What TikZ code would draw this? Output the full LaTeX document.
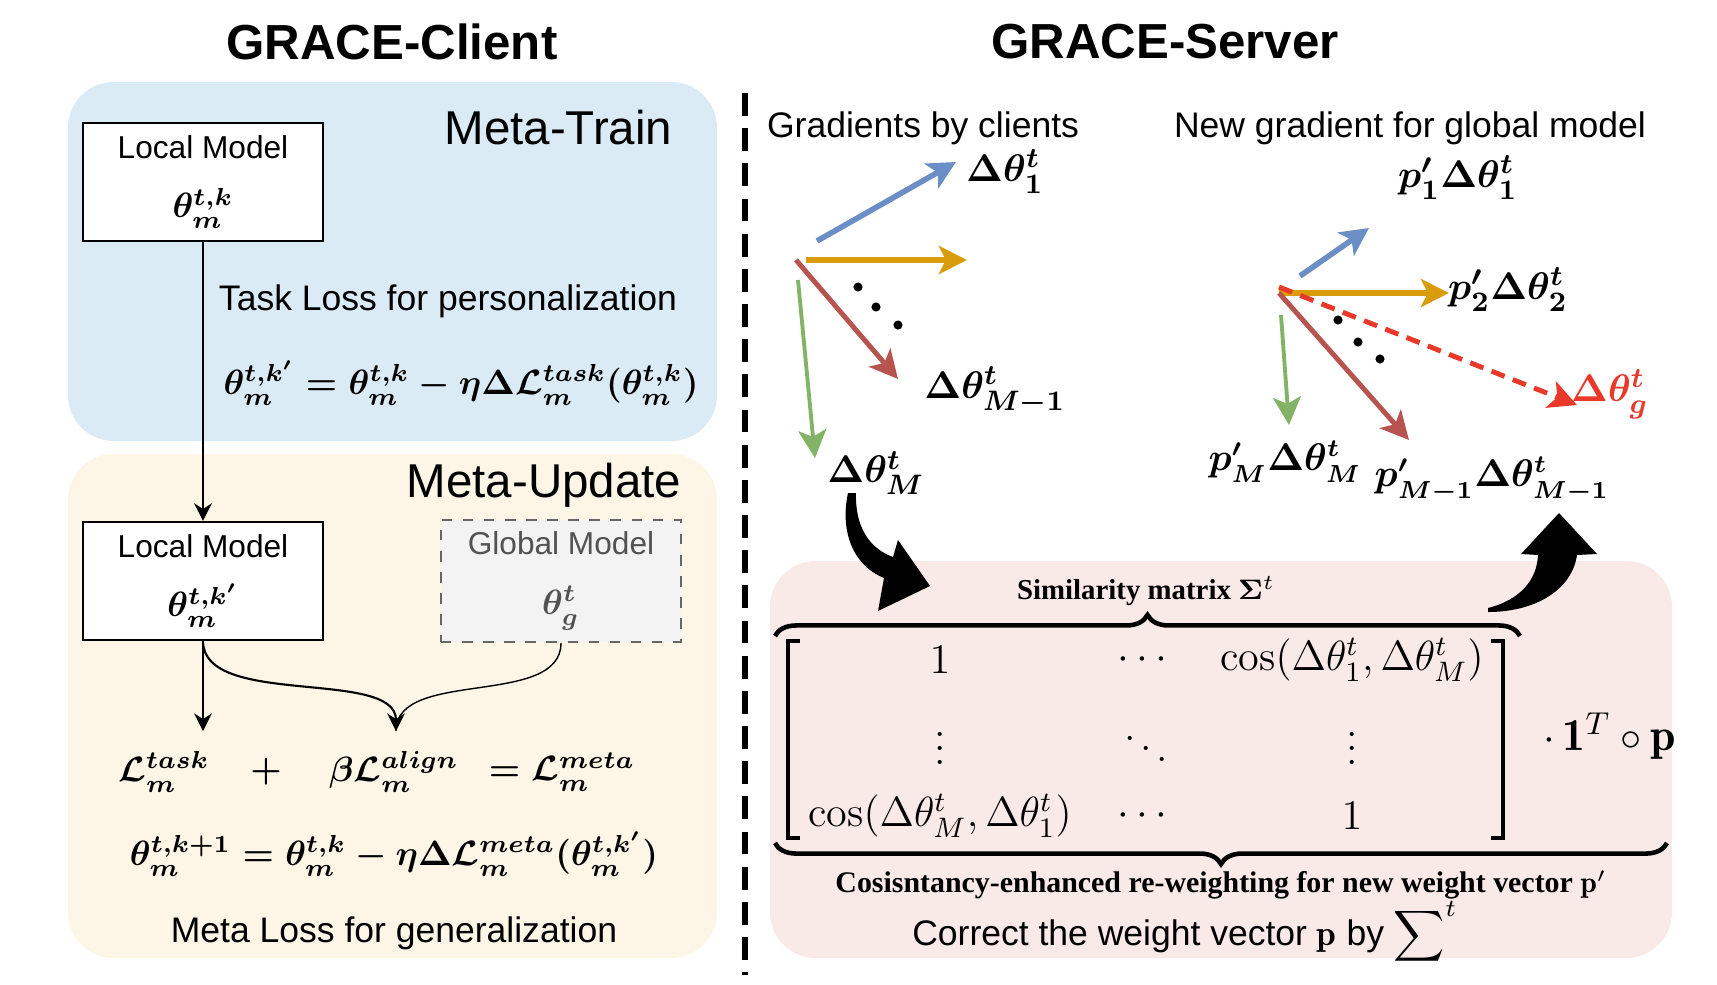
\documentclass[tikz,border=0pt]{standalone}
\usepackage{amsmath,amssymb}
\usepackage{fontspec}
\setsansfont{Liberation Sans}
\newfontfamily\captionserif{Liberation Serif}
\usepackage{tikz}
\usetikzlibrary{arrows.meta,positioning,calc,decorations.pathreplacing}

\definecolor{trainbg}{HTML}{DBEBF5}
\definecolor{updatebg}{HTML}{FDF5E6}
\definecolor{serverbg}{HTML}{F9E9E7}
\definecolor{gblue}{HTML}{6C8EC6}
\definecolor{gyellow}{HTML}{D89C0C}
\definecolor{gbrown}{HTML}{B85450}
\definecolor{ggreen}{HTML}{82B366}
\definecolor{gred}{HTML}{E8392A}
\definecolor{globalbg}{HTML}{F3F3F3}
\definecolor{globalln}{HTML}{666666}

\newcommand{\eqfont}{\fontsize{10.2}{12}\selectfont\boldmath}
\newcommand{\labfont}{\fontsize{11}{13}\selectfont\boldmath}

\begin{document}
\begin{tikzpicture}[
    x=0.01cm, y=-0.01cm,
    panel/.style={rounded corners=13pt},
    title/.style={font=\sffamily\bfseries\fontsize{14}{16}\selectfont},
    phase/.style={font=\sffamily\fontsize{13.5}{16}\selectfont, anchor=east, inner sep=0pt},
    caption/.style={font=\sffamily\fontsize{10.1}{12}\selectfont},
    box/.style={rectangle, draw=black, fill=white, semithick, minimum width=2.4cm, minimum height=1.18cm, align=center, font=\sffamily\fontsize{9}{11}\selectfont},
    globalbox/.style={box, draw=globalln, dashed, fill=globalbg, text=globalln!80!black},
    eq/.style={font=\eqfont},
    glabel/.style={font=\labfont, inner sep=1pt},
    arrow/.style={-{Stealth[length=5pt,width=5pt]}, semithick},
    grad/.style={line width=1.6pt, -{Stealth[length=8pt,width=8pt,inset=2pt]}},
    mat/.style={font=\fontsize{12}{14}\selectfont, inner sep=0.5pt},
    smallbf/.style={font=\captionserif\bfseries\fontsize{8.2}{10}\selectfont},
    brace/.style={decorate, decoration={brace, amplitude=6pt}, line width=1.3pt}
]
    \useasboundingbox (0,0) rectangle (1717,984);

    % Panels
    \fill[trainbg, panel] (68,82) rectangle (717,441);
    \fill[updatebg, panel] (68,454) rectangle (717,958);
    \fill[serverbg, panel] (770,561) rectangle (1672,958);
    \draw[line width=1.8pt, dash pattern=on 6.5pt off 3.5pt] (745,93) -- (745,975);

    % Titles
    \node[title] (client) at (392,42) {GRACE-Client};
    \node[title] (server) at (1165,42) {GRACE-Server};

    % Meta-Train
    \node[phase] (train) at (673,128) {Meta-Train};
    \node[box] (local1) at (203,182) {Local Model\\[6pt]{\eqfont$\theta^{t,k}_m$}};
    \node[caption] (taskloss) at (448,301) {Task Loss for personalization};
    \node[eq] (inner) at (461,383) {$\theta^{t,k'}_m=\theta^{t,k}_m-\eta\Delta\mathcal{L}^{task}_m(\theta^{t,k}_m)$};

    % Meta-Update
    \node[phase] (update) at (682,485) {Meta-Update};
    \node[box] (local2) at (203,581) {Local Model\\[6pt]{\eqfont$\theta^{t,k'}_m$}};
    \node[globalbox] (global) at (561,581) {Global Model\\[6pt]{\eqfont$\theta^{t}_g$}};
    \node[eq] (ltask) at (164,772) {$\mathcal{L}^{task}_m$};
    \node[eq] (plus) at (266,772) {$+$};
    \node[eq] (lalign) at (394,772) {$\beta\mathcal{L}^{align}_m$};
    \node[eq] (lmeta) at (562,772) {$=\mathcal{L}^{meta}_m$};
    \node[eq] (outer) at (394,854) {$\theta^{t,k+1}_m=\theta^{t,k}_m-\eta\Delta\mathcal{L}^{meta}_m(\theta^{t,k'}_m)$};
    \node[caption] (metaloss) at (394,933) {Meta Loss for generalization};

    \coordinate (tasktop) at (203,731);
    \coordinate (merge) at (396,731);
    \draw[arrow] (local1) -- (local2);
    \draw[arrow] (local2) -- (tasktop);
    \draw[arrow] (local2.south) .. controls (203,708) and (396,668) .. (merge);
    \draw (global.south) .. controls (561,708) and (396,668) .. (merge);

    % Gradients by clients
    \node[caption] (clients) at (923,128) {Gradients by clients};
    \node[glabel] (d1) at (1005,172) {$\Delta\theta^t_1$};
    \node[glabel] (dM1) at (995,391) {$\Delta\theta^t_{M-1}$};
    \node[glabel] (dM) at (876,473) {$\Delta\theta^t_M$};
    \draw[grad, gblue] (817,241) -- (956,162);
    \draw[grad, gyellow] (806,260) -- (967,260);
    \draw[grad, gbrown, line width=1.4pt] (796,260) -- (898,379);
    \draw[grad, ggreen, line width=1.1pt] (798,280) -- (815,458);
    \foreach \p in {(858,287),(876,307),(898,325)}
        \fill \p circle (1.3pt);

    % New gradient for global model
    \node[caption] (newgrad) at (1410,128) {New gradient for global model};
    \node[glabel] (pd1) at (1458,178) {$p'_1\Delta\theta^t_1$};
    \node[glabel] (pd2) at (1508,290) {$p'_2\Delta\theta^t_2$};
    \node[glabel, text=gred] (dg) at (1610,394) {$\Delta\theta^t_g$};
    \node[glabel, font=\fontsize{10.5}{12}\selectfont\boldmath] (pdM) at (1285,462) {$p'_M\Delta\theta^t_M$};
    \node[glabel, font=\fontsize{10.5}{12}\selectfont\boldmath] (pdM1) at (1492,480) {$p'_{M-1}\Delta\theta^t_{M-1}$};
    \draw[grad, gblue] (1300,276) -- (1369,228);
    \draw[grad, gyellow] (1279,293) -- (1449,293);
    \draw[grad, gbrown, line width=1.4pt] (1279,293) -- (1409,440);
    \draw[grad, ggreen, line width=1.1pt] (1281,315) -- (1289,425);
    \draw[grad, gred, line width=1.4pt, dash pattern=on 4pt off 2.5pt] (1279,287) -- (1577,405);
    \foreach \p in {(1338,320),(1358,342),(1380,359)}
        \fill \p circle (1.3pt);

    % Big arrows
    \fill (848,493) .. controls (840,530) and (852,565) .. (884,578) -- (878,611) -- (930,586) -- (898,540) -- (893,557) .. controls (868,548) and (855,525) .. (856,493) -- cycle;
    \fill (1488,612) .. controls (1535,612) and (1572,590) .. (1577,555) -- (1597,554) -- (1559,513) -- (1521,554) -- (1538,555) .. controls (1537,580) and (1520,600) .. (1488,608) -- cycle;

    % Similarity matrix
    \node[smallbf] (simtitle) at (1146,591) {Similarity matrix $\boldsymbol{\Sigma}^t$};
    \draw[brace] (775,636) -- (1520,636);
    \draw[line width=1.1pt] (800,641) -- (788,641) -- (788,838) -- (800,838);
    \draw[line width=1.1pt] (1491,641) -- (1503,641) -- (1503,838) -- (1491,838);
    \node[mat] (m11) at (940,660) {$1$};
    \node[mat] (m12) at (1146,660) {$\cdots$};
    \node[mat] (m13) at (1352,660) {$\cos(\Delta\theta^t_1,\Delta\theta^t_M)$};
    \node[mat] (m21) at (940,738) {$\vdots$};
    \node[mat] (m22) at (1146,738) {$\ddots$};
    \node[mat] (m23) at (1352,738) {$\vdots$};
    \node[mat] (m31) at (940,816) {$\cos(\Delta\theta^t_M,\Delta\theta^t_1)$};
    \node[mat] (m32) at (1146,816) {$\cdots$};
    \node[mat] (m33) at (1352,816) {$1$};
    \node[mat, font=\fontsize{13}{15}\selectfont] (onep) at (1610,736) {$\cdot\,\mathbf{1}^T\circ\mathbf{p}$};
    \draw[brace] (1667,843) -- (775,843);
    \node[smallbf, font=\captionserif\bfseries\fontsize{8.5}{10}\selectfont] (reweight) at (1221,885) {Cosisntancy-enhanced re-weighting for new weight vector $\mathbf{p}'$};
    \node[caption] (correct) at (1185,933) {Correct the weight vector $\mathbf{p}$ by $\displaystyle\sum\nolimits^{t}$};
\end{tikzpicture}
\end{document}
